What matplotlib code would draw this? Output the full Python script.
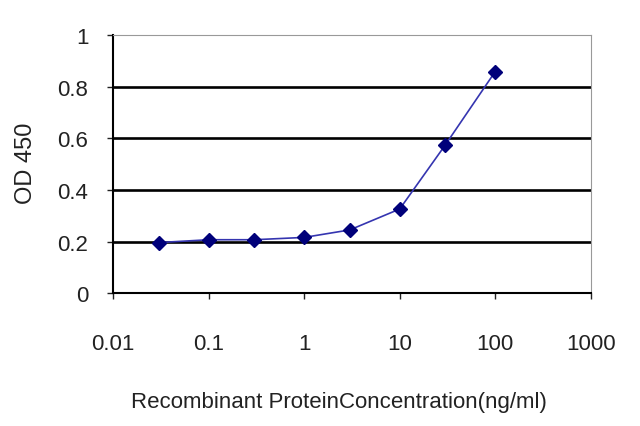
import matplotlib
matplotlib.use("Agg")
import matplotlib.pyplot as plt

conc = [0.03, 0.1, 0.3, 1, 3, 10, 30, 100]
od = [0.196, 0.207, 0.207, 0.216, 0.245, 0.326, 0.574, 0.858]
xticks = [0.01, 0.1, 1, 10, 100, 1000]
xlabels = ["0.01", "0.1", "1", "10", "100", "1000"]
yticks = [0, 0.2, 0.4, 0.6, 0.8, 1]
ylabels = ["0", "0.2", "0.4", "0.6", "0.8", "1"]

plt.rcParams['font.family'] = ['Liberation Sans', 'DejaVu Sans']

fig = plt.figure(figsize=(6.4, 4.27), dpi=100)
ax = fig.add_axes([0.177, 0.311, 0.746, 0.605])

ax.plot(conc, od, color="#3535b0", lw=1.2, marker="D", ms=7,
        mfc="#00007a", mec="#00007a", zorder=3)

ax.set_xscale("log")
ax.set_xlim(0.01, 1000)
ax.set_ylim(0, 1)
ax.set_xticks(xticks)
ax.set_xticklabels(xlabels)
ax.minorticks_off()
ax.set_yticks(yticks)
ax.set_yticklabels(ylabels)
ax.tick_params(labelsize=16, length=4, width=1, colors="#222222")
ax.tick_params(axis="x", pad=25)
ax.tick_params(axis="y", pad=14)
for y in yticks[1:-1]:
    ax.axhline(y, color="black", lw=1.9, zorder=1)

ax.spines["left"].set_linewidth(1.5)
ax.spines["bottom"].set_linewidth(1.5)
ax.spines["top"].set_color("#999999")
ax.spines["right"].set_color("#999999")

# axis titles placed like the original
fig.text(26 / 640, 1 - 163 / 427, "OD 450", rotation=90, fontsize=17,
         ha="center", va="center", color="#222222")
fig.text(339 / 640, 1 - 403 / 427, "Recombinant ProteinConcentration(ng/ml)",
         fontsize=16, ha="center", va="center", color="#222222")

fig.savefig("out.png", dpi=100)
